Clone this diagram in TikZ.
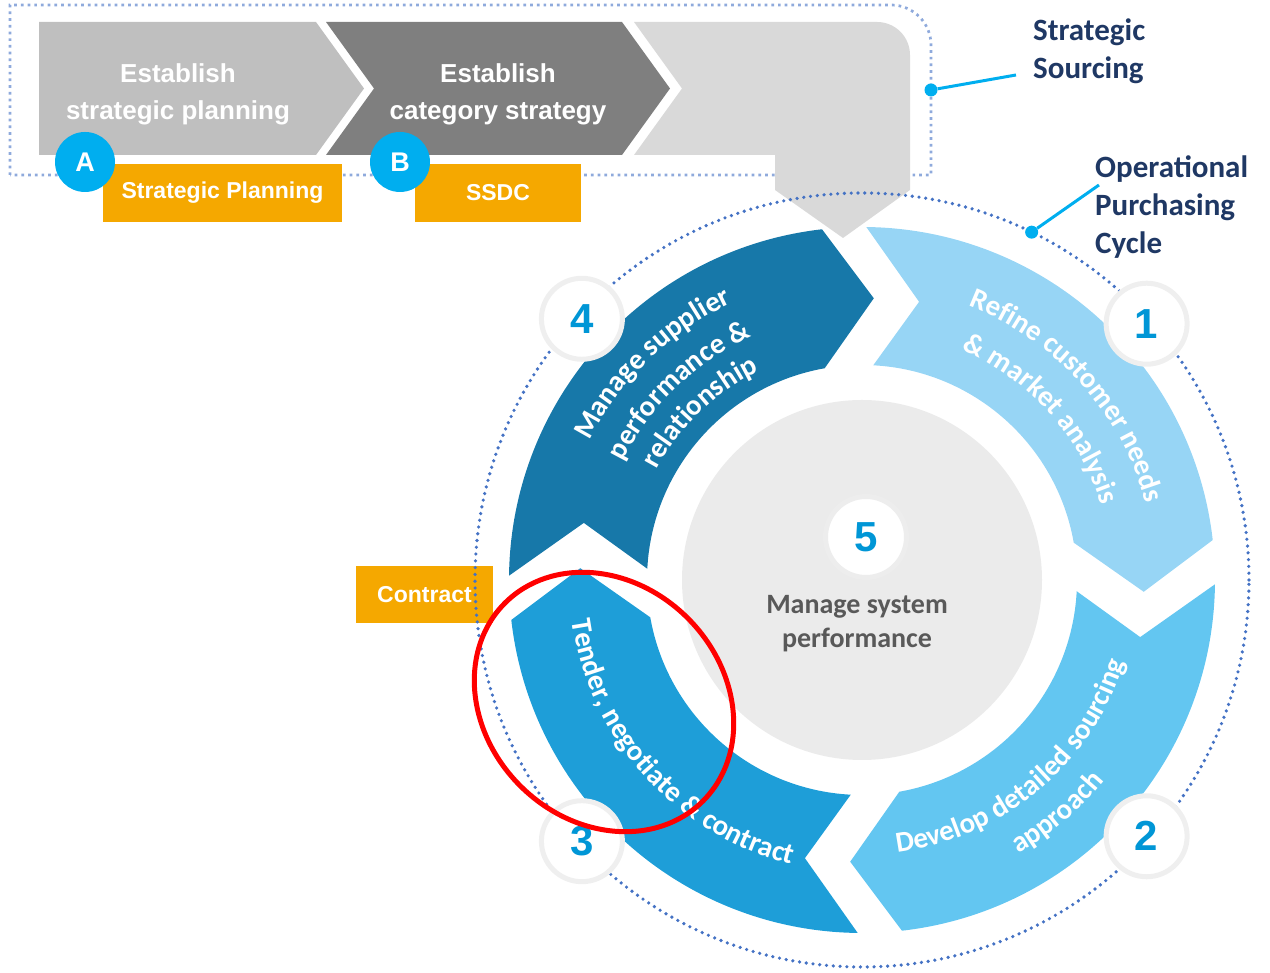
\documentclass[tikz,border=0pt]{standalone}
\usepackage{fontspec}
\setmainfont{Liberation Sans}
\newfontfamily\calfont{Carlito}
\usetikzlibrary{decorations.text}
\definecolor{boxA}{HTML}{BFBFBF}
\definecolor{boxB}{HTML}{7F7F7F}
\definecolor{boxC}{HTML}{D9D9D9}
\definecolor{tag}{HTML}{F5A800}
\definecolor{ball}{HTML}{00AEEF}
\definecolor{navy}{HTML}{1F3864}
\definecolor{ringdot}{HTML}{4472C4}
\definecolor{boxdot}{HTML}{8FAADC}
\definecolor{stepI}{HTML}{97D5F5}
\definecolor{stepII}{HTML}{63C6F1}
\definecolor{stepIII}{HTML}{1E9ED8}
\definecolor{stepIV}{HTML}{1778A9}
\definecolor{hub}{HTML}{EBEBEB}
\definecolor{numblue}{HTML}{0096D6}
\definecolor{ringgray}{HTML}{EFEFEF}
\definecolor{hubgray}{HTML}{595959}
\begin{document}
\begin{tikzpicture}[x=1pt,y=1pt,
  tagbox/.style={fill=tag,text=white,inner sep=0,minimum height=58,
    font=\bfseries\fontsize{23}{26}\selectfont},
  letter/.style={circle,fill=ball,text=white,minimum size=60,inner sep=0,
    font=\bfseries\fontsize{27}{30}\selectfont},
  boxtext/.style={align=center,text=white,
    font=\bfseries\fontsize{26}{37}\selectfont},
  heading/.style={anchor=west,align=left,inner sep=0,text=navy,
    font=\calfont\bfseries\fontsize{31}{38}\selectfont},
  lead/.style={draw=ball,line width=3},
  leaddot/.style={circle,fill=ball,minimum size=13,inner sep=0},
  numring/.style={circle,fill=white,draw=ringgray,line width=5,minimum size=81,
    inner sep=0,text=numblue,font=\bfseries\fontsize{42}{46}\selectfont},
  arctext/.style={decorate,decoration={text along path,text align=center,
    text color=white,text={|\calfont\bfseries\fontsize{29}{34}\selectfont|#1}}}]
\useasboundingbox (0,0) rectangle (1270,973);
\draw[boxdot,line width=2.7,dash pattern=on 2.7 off 4]
     (10,798) -- (10,968) -- (891,968)
  arc[start angle=90,end angle=0,radius=40] -- (931,798) -- cycle;
\node[tagbox,minimum width=239] (plantag) at (222.5,780) {Strategic Planning};
\node[tagbox,minimum width=166] (ssdctag) at (498,780) {SSDC};
\fill[boxA] (39,818) -- (39,951) -- (316,951) -- (364,884.5) -- (316,818) -- cycle;
\fill[boxB] (326,951) -- (622,951) -- (670,884.5) -- (622,818) -- (326,818)
  -- (374,884.5) -- cycle;
\fill[boxC] (634,951) -- (877,951) arc[start angle=90,end angle=0,radius=33]
  -- (910,783) -- (843,735) -- (775,783) -- (775,818) -- (634,818)
  -- (682,884.5) -- cycle;
\node[boxtext] (plantext) at (178,878.5) {Establish\\strategic planning};
\node[boxtext] (cattext) at (498,878.5) {Establish\\category strategy};
\node[letter] (balla) at (85,811) {A};
\node[letter] (ballb) at (400,811) {B};
\node[heading] (sourcing) at (1033,921.5) {Strategic\\Sourcing};
\node[heading] (opcycle) at (1095,766) {Operational\\Purchasing\\Cycle};
\node[leaddot] (ssdot) at (931,883) {};
\coordinate (ssend) at (1016,898);
\draw[lead] (ssdot) -- (ssend);
\node[tagbox,minimum width=137,minimum height=57] (contag) at (424.5,378.5) {Contract};
\begin{scope}[shift={(862,393)}]
\fill[hub] (0,0) circle[radius=180];
\foreach \c [count=\i from 0] in {stepI,stepII,stepIII,stepIV} {
  \pgfmathsetmacro\a{-90*\i}
  \fill[\c] (\a+89.3:353) arc[start angle=\a+89.3,end angle=\a+6.5,radius=353]
    -- (\a-2.4:282) -- (\a+10:215)
    arc[start angle=\a+10,end angle=\a+87,radius=215] -- (\a+78.4:284) -- cycle;
}
\draw[ringdot,line width=3.6,line cap=round,dash pattern=on 0 off 6.8]
  (0,0) circle[radius=387];
\foreach \n/\ang in {1/42,2/-42,3/-137,4/137}
  \node[numring] (num\n) at (\ang:383) {\n};
\node[numring,draw=white!93!black] (num5) at (4,43) {5};
\node[align=center,text=hubgray,font=\calfont\bfseries\fontsize{28}{34}\selectfont]
  (hubtext) at (-5,-44) {Manage system\\performance};
\path[arctext={Refine customer needs}] (102:294) arc[start angle=102,end angle=-18,radius=294];
\path[arctext={{\&} market analysis}] (102:251) arc[start angle=102,end angle=-18,radius=251];
\path[arctext={Develop detailed sourcing}] (-120:275) arc[start angle=-120,end angle=20,radius=275];
\path[arctext={approach}] (-120:315) arc[start angle=-120,end angle=20,radius=315];
\path[arctext={Tender, negotiate {\&} contract}] (152:293) arc[start angle=152,end angle=292,radius=293];
\path[arctext={Manage supplier}] (204:306) arc[start angle=204,end angle=64,radius=306];
\path[arctext={performance {\&}}] (204:267) arc[start angle=204,end angle=64,radius=267];
\path[arctext={relationship}] (204:233) arc[start angle=204,end angle=64,radius=233];
\node[leaddot] (opdot) at (64:387) {};
\end{scope}
\coordinate (opend) at (1099,788);
\draw[lead] (opdot) -- (opend);
\draw[red,line width=5,rotate around={-45:(604,271)}] (604,271) ellipse[x radius=140,y radius=118.5];
\end{tikzpicture}
\end{document}
